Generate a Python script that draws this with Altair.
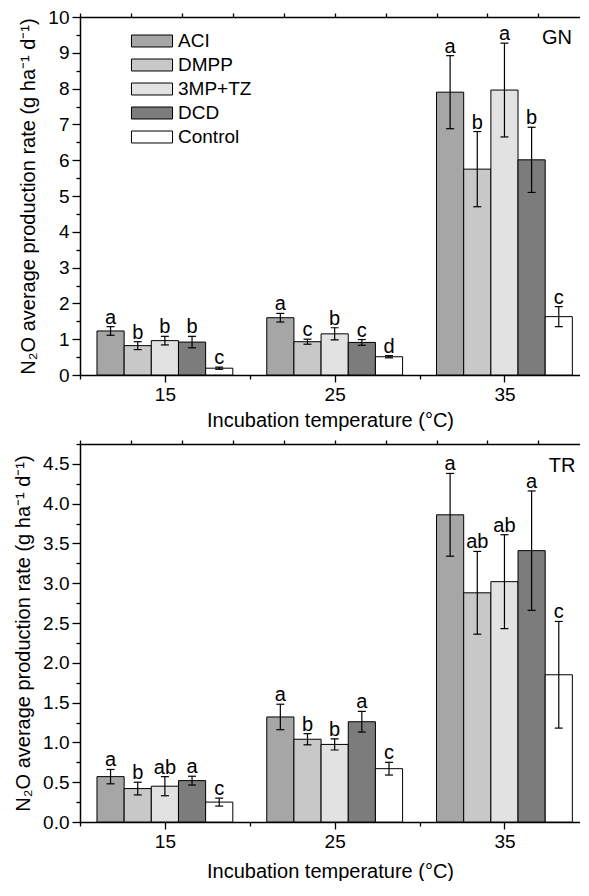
import altair as alt
import pandas as pd

# ---------------- data ----------------
temps = [15, 25, 35]
treatments = ["ACI", "DMPP", "3MP+TZ", "DCD", "Control"]

gn_mean = {
    "ACI": [1.23, 1.60, 7.90],
    "DMPP": [0.82, 0.93, 5.75],
    "3MP+TZ": [0.96, 1.15, 7.96],
    "DCD": [0.92, 0.91, 6.01],
    "Control": [0.19, 0.51, 1.63],
}
gn_sd = {
    "ACI": [0.12, 0.12, 1.02],
    "DMPP": [0.11, 0.07, 1.05],
    "3MP+TZ": [0.12, 0.17, 1.31],
    "DCD": [0.16, 0.08, 0.91],
    "Control": [0.03, 0.03, 0.28],
}
gn_letters = {
    "ACI": ["a", "a", "a"],
    "DMPP": ["b", "c", "b"],
    "3MP+TZ": ["b", "b", "a"],
    "DCD": ["b", "c", "b"],
    "Control": ["c", "d", "c"],
}

tr_mean = {
    "ACI": [0.57, 1.32, 3.86],
    "DMPP": [0.42, 1.04, 2.88],
    "3MP+TZ": [0.45, 0.975, 3.02],
    "DCD": [0.52, 1.26, 3.41],
    "Control": [0.25, 0.67, 1.85],
}
tr_sd = {
    "ACI": [0.09, 0.16, 0.52],
    "DMPP": [0.08, 0.07, 0.52],
    "3MP+TZ": [0.12, 0.07, 0.59],
    "DCD": [0.055, 0.13, 0.75],
    "Control": [0.05, 0.08, 0.67],
}
tr_letters = {
    "ACI": ["a", "a", "a"],
    "DMPP": ["b", "b", "ab"],
    "3MP+TZ": ["ab", "b", "ab"],
    "DCD": ["a", "a", "a"],
    "Control": ["c", "c", "c"],
}

fills = ["#a6a6a6", "#c8c8c8", "#e2e2e2", "#7c7c7c", "#ffffff"]

FONT = "Liberation Sans"
BAR_W = 1.6  # bar width in x units (layout)
XDOM = [10, 39.45]


def make_df(means, sds, letters):
    rows = []
    for i, t in enumerate(treatments):
        for j, temp in enumerate(temps):
            m = means[t][j]
            s = sds[t][j]
            xc = temp + (i - 2) * BAR_W
            rows.append(dict(temp=temp, treatment=t, xc=xc,
                             x0=xc - BAR_W / 2, x1=xc + BAR_W / 2,
                             mean=m, lo=m - s, hi=m + s,
                             letter=letters[t][j]))
    return pd.DataFrame(rows)


def panel(df, ymax, ymaj, ymin, yfmt, tag, tag_x, tag_y, height, show_legend, title_pad):
    xs = alt.Scale(domain=XDOM, nice=False, zero=False)
    ys = alt.Scale(domain=[0, ymax], nice=False, zero=True)
    nvals = int(round(ymax / ymin)) + 1
    yvals = [round(k * ymin, 4) for k in range(nvals) if k * ymin <= ymax + 1e-9]
    yax = alt.Axis(
        values=yvals,
        labelExpr=f"(abs(datum.value/{ymaj} - round(datum.value/{ymaj})) < 1e-6) ? format(datum.value, '{yfmt}') : ''",
        tickSize={"condition": {"test": f"abs(datum.value/{ymaj} - round(datum.value/{ymaj})) > 1e-6", "value": 4}, "value": 8},
        labelPadding=3,
        titlePadding=9,
    )
    ytitle = "N\u2082O average production rate (g ha\u207b\u00b9 d\u207b\u00b9)"
    xbottom = alt.Axis(
        values=[10, 15, 20, 25, 30, 35],
        labelExpr="datum.value % 10 === 5 ? datum.label : ''",
        tickSize={"condition": {"test": "datum.value % 10 === 0", "value": 4}, "value": 7},
        labelPadding=3,
        titlePadding=title_pad,
    )
    xtop = alt.Axis(orient="top", values=list(range(10, 40, 3)), labels=False,
                    tickSize=4, title=None)

    if show_legend:
        leg = alt.Legend(orient="none", legendX=58, legendY=10, title=None,
                         symbolType="M-1.52,-0.444H1.52V0.444H-1.52Z", symbolSize=729,
                         symbolStrokeColor="black", symbolStrokeWidth=1,
                         symbolOpacity=1, labelFontSize=19, labelFont=FONT,
                         labelOffset=12, rowPadding=0, padding=0,
                         labelColor="black")
    else:
        leg = None

    base = alt.Chart(df)
    bars = base.mark_bar(stroke="black", strokeWidth=1, opacity=1).encode(
        x=alt.X("x0:Q", scale=xs, axis=xbottom, title="Incubation temperature (\u00b0C)"),
        x2="x1:Q",
        y=alt.Y("mean:Q", scale=ys, axis=yax, title=ytitle),
        y2=alt.datum(0),
        fill=alt.Fill("treatment:N", scale=alt.Scale(domain=treatments, range=fills),
                      sort=treatments, legend=leg),
    )
    err = base.mark_rule(color="black", strokeWidth=1.2).encode(
        x=alt.X("xc:Q", scale=xs, axis=xtop),
        y=alt.Y("lo:Q", scale=ys, axis=yax, title=ytitle),
        y2="hi:Q",
    )
    cap_lo = base.mark_tick(orient="horizontal", size=8, thickness=1.2, color="black", opacity=1).encode(
        x=alt.X("xc:Q", scale=xs, axis=None),
        y=alt.Y("lo:Q", scale=ys, axis=yax, title=ytitle),
    )
    cap_hi = base.mark_tick(orient="horizontal", size=8, thickness=1.2, color="black", opacity=1).encode(
        x=alt.X("xc:Q", scale=xs, axis=None),
        y=alt.Y("hi:Q", scale=ys, axis=yax, title=ytitle),
    )
    text = base.mark_text(baseline="bottom", dy=1, fontSize=20, font=FONT, color="black").encode(
        x=alt.X("xc:Q", scale=xs, axis=None),
        y=alt.Y("hi:Q", scale=ys, axis=yax, title=ytitle),
        text="letter:N",
    )
    tagc = alt.Chart(pd.DataFrame({"t": [tag]})).mark_text(
        fontSize=20, font=FONT, color="black", align="center", baseline="middle"
    ).encode(x=alt.value(tag_x), y=alt.value(tag_y), text="t:N")

    return alt.layer(bars, err, cap_lo, cap_hi, text, tagc).resolve_axis(
        x="independent"
    ).properties(width=500, height=height)


gn_df = make_df(gn_mean, gn_sd, gn_letters)
tr_df = make_df(tr_mean, tr_sd, tr_letters)

top = panel(gn_df, 10, 1, 0.5, "d", "GN", 477, 21, 358, True, 6)
bottom = panel(tr_df, 4.75, 0.5, 0.25, ".1f", "TR", 482, 22, 378, False, 10)

chart = alt.vconcat(top, bottom, spacing=9).resolve_scale(
    fill="independent"
).properties(
    padding={"left": 5, "top": 0, "right": 0, "bottom": 0}
).configure_view(stroke=None).configure_axis(
    labelFont=FONT, titleFont=FONT, labelFontSize=19, titleFontSize=20,
    labelColor="black", titleColor="black", domainColor="black", tickColor="black",
    domainWidth=1.5, tickWidth=1.3, grid=False, titleFontWeight="normal",
)

chart.save("out.html", embed_options={"renderer": "svg", "actions": False})
